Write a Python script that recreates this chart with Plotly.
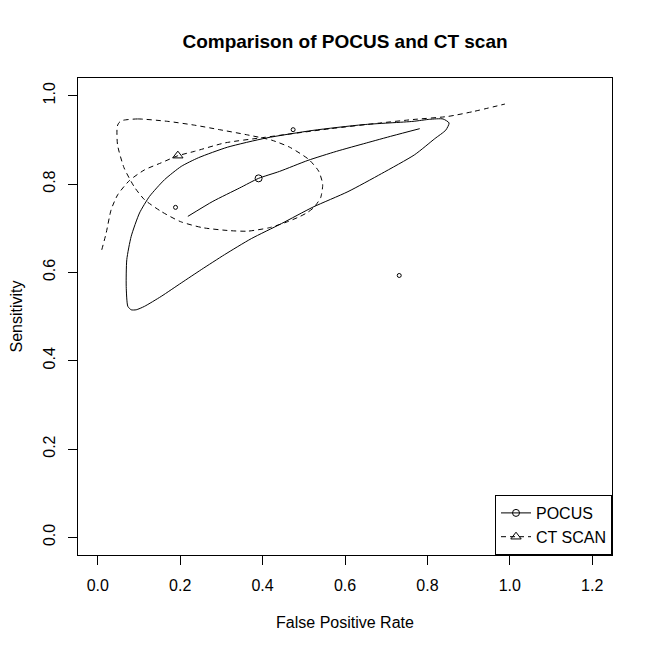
import plotly.graph_objects as go

# ---- data ----
x_tick_vals = [0.0, 0.2, 0.4, 0.6, 0.8, 1.0, 1.2]
x_tick_text = ["0.0", "0.2", "0.4", "0.6", "0.8", "1.0", "1.2"]
y_tick_vals = [0.0, 0.2, 0.4, 0.6, 0.8, 1.0]
y_tick_text = ["0.0", "0.2", "0.4", "0.6", "0.8", "1.0"]

# POCUS SROC curve
pocus_sroc_fpr = [0.2186, 0.2793, 0.3442, 0.3903, 0.4413, 0.5101, 0.5791, 0.6519, 0.7165, 0.7814]
pocus_sroc_sens = [0.7267, 0.7607, 0.7910, 0.8128, 0.8286, 0.8535, 0.8739, 0.8929, 0.9094, 0.9253]

# POCUS confidence region
pocus_reg_fpr = [0.0933, 0.0811, 0.0729, 0.0690, 0.0704, 0.0811, 0.1013, 0.1256, 0.1620, 0.2026,
                 0.2446, 0.3150, 0.4090, 0.5222, 0.6437, 0.7651, 0.8054, 0.8380, 0.8526, 0.8445,
                 0.8178, 0.7692, 0.6884, 0.6072, 0.5222, 0.4455, 0.3726, 0.3078, 0.2512, 0.2026,
                 0.1540, 0.1134, 0.0933]
pocus_reg_sens = [0.5152, 0.5152, 0.5230, 0.5683, 0.6287, 0.6815, 0.7344, 0.7720, 0.8098, 0.8399,
                  0.8596, 0.8834, 0.9042, 0.9214, 0.9343, 0.9418, 0.9465, 0.9472, 0.9382, 0.9219,
                  0.9026, 0.8664, 0.8234, 0.7827, 0.7476, 0.7102, 0.6763, 0.6401, 0.6061, 0.5760,
                  0.5456, 0.5230, 0.5152]

# CT SCAN SROC curve
ct_sroc_fpr = [0.0097, 0.0204, 0.0325, 0.0486, 0.0770, 0.1134, 0.1540, 0.1943, 0.2350, 0.3080,
               0.4000, 0.5630, 0.6840, 0.7650, 0.8500, 0.9110, 0.9880]
ct_sroc_sens = [0.651, 0.689, 0.742, 0.776, 0.808, 0.832, 0.848, 0.864, 0.874, 0.893,
                0.905, 0.925, 0.938, 0.946, 0.953, 0.964, 0.981]

# CT SCAN confidence region
ct_reg_fpr = [0.0607, 0.0972, 0.1700, 0.2349, 0.2956, 0.3605, 0.4219, 0.4656, 0.5118, 0.5361,
              0.5458, 0.5409, 0.5239, 0.5081, 0.4899, 0.4608, 0.4171, 0.3636, 0.3199, 0.2543,
              0.2009, 0.1547, 0.1134, 0.0891, 0.0636, 0.0479, 0.0471, 0.0515, 0.0607]
ct_reg_sens = [0.9441, 0.9473, 0.9418, 0.9332, 0.9230, 0.9117, 0.8993, 0.8834, 0.8558, 0.8291,
               0.7996, 0.7691, 0.7464, 0.7351, 0.7261, 0.7147, 0.7012, 0.6932, 0.6944, 0.7011,
               0.7147, 0.7374, 0.7645, 0.7928, 0.8370, 0.8891, 0.9298, 0.9389, 0.9441]

# study points
study_fpr = [0.1887, 0.4741, 0.7316]
study_sens = [0.7471, 0.9230, 0.5929]

# summary points
pocus_sum_fpr = [0.3903]
pocus_sum_sens = [0.8128]
ct_sum_fpr = [0.1943]
ct_sum_sens = [0.8642]

FONT = "Liberation Sans, Arial, sans-serif"
DASH = "5px,4px"

fig = go.Figure()

fig.add_trace(go.Scatter(x=pocus_reg_fpr, y=pocus_reg_sens, mode="lines",
                         line=dict(color="black", width=1, shape="spline", smoothing=0.6),
                         showlegend=False, hoverinfo="skip"))
fig.add_trace(go.Scatter(x=pocus_sroc_fpr, y=pocus_sroc_sens, mode="lines",
                         line=dict(color="black", width=1, shape="spline", smoothing=0.6),
                         showlegend=False, hoverinfo="skip"))
fig.add_trace(go.Scatter(x=ct_reg_fpr, y=ct_reg_sens, mode="lines",
                         line=dict(color="black", width=1, dash=DASH, shape="spline", smoothing=0.6),
                         showlegend=False, hoverinfo="skip"))
fig.add_trace(go.Scatter(x=ct_sroc_fpr, y=ct_sroc_sens, mode="lines",
                         line=dict(color="black", width=1, dash=DASH, shape="spline", smoothing=0.6),
                         showlegend=False, hoverinfo="skip"))
fig.add_trace(go.Scatter(x=study_fpr, y=study_sens, mode="markers",
                         marker=dict(symbol="circle-open", size=4, color="black",
                                     line=dict(width=1, color="black")),
                         showlegend=False))

fig.add_trace(go.Scatter(x=pocus_sum_fpr, y=pocus_sum_sens, mode="lines+markers", name="POCUS",
                         line=dict(color="black", width=1),
                         marker=dict(symbol="circle-open", size=7, color="black",
                                     line=dict(width=1, color="black"))))
fig.add_trace(go.Scatter(x=ct_sum_fpr, y=ct_sum_sens, mode="lines+markers", name="CT SCAN",
                         line=dict(color="black", width=1, dash=DASH),
                         marker=dict(symbol="triangle-up-open", size=9, color="black",
                                     line=dict(width=1, color="black"))))

# page body adds an 8px offset; figure is 645 px so the whole page is 653 px
fig.update_layout(
    width=645, height=645,
    margin=dict(l=70, r=41, t=70, b=98),
    paper_bgcolor="white", plot_bgcolor="white",
    font=dict(family=FONT, size=16, color="black"),
    title=dict(text="Comparison of POCUS and CT scan", x=0.5, xref="paper",
               y=1 - 33 / 645, yref="container", yanchor="middle",
               font=dict(family=FONT, size=19, color="black", weight="bold")),
    legend=dict(x=1, y=0, xanchor="right", yanchor="bottom",
                bgcolor="white", bordercolor="black", borderwidth=1,
                font=dict(family=FONT, size=16, color="black"),
                tracegroupgap=0),
    showlegend=True,
)

fig.update_xaxes(range=[-0.048, 1.248], tickvals=x_tick_vals, ticktext=x_tick_text,
                 automargin=False,
                 ticks="outside", ticklen=9, tickwidth=1, tickcolor="black",
                 ticklabelstandoff=7,
                 showline=True, linecolor="black", linewidth=1, mirror=True,
                 showgrid=False, zeroline=False,
                 tickfont=dict(family=FONT, size=16, color="black"),
                 title=dict(text="False Positive Rate", standoff=23,
                            font=dict(family=FONT, size=16, color="black")))
fig.update_yaxes(range=[-0.04, 1.04], tickvals=y_tick_vals, ticktext=y_tick_text,
                 automargin=False,
                 ticks="outside", ticklen=9, tickwidth=1, tickcolor="black", tickangle=-90,
                 ticklabelstandoff=7,
                 showline=True, linecolor="black", linewidth=1, mirror=True,
                 showgrid=False, zeroline=False,
                 tickfont=dict(family=FONT, size=16, color="black"),
                 title=dict(text="Sensitivity", standoff=25,
                            font=dict(family=FONT, size=16, color="black")))

fig.write_html("out.html")
